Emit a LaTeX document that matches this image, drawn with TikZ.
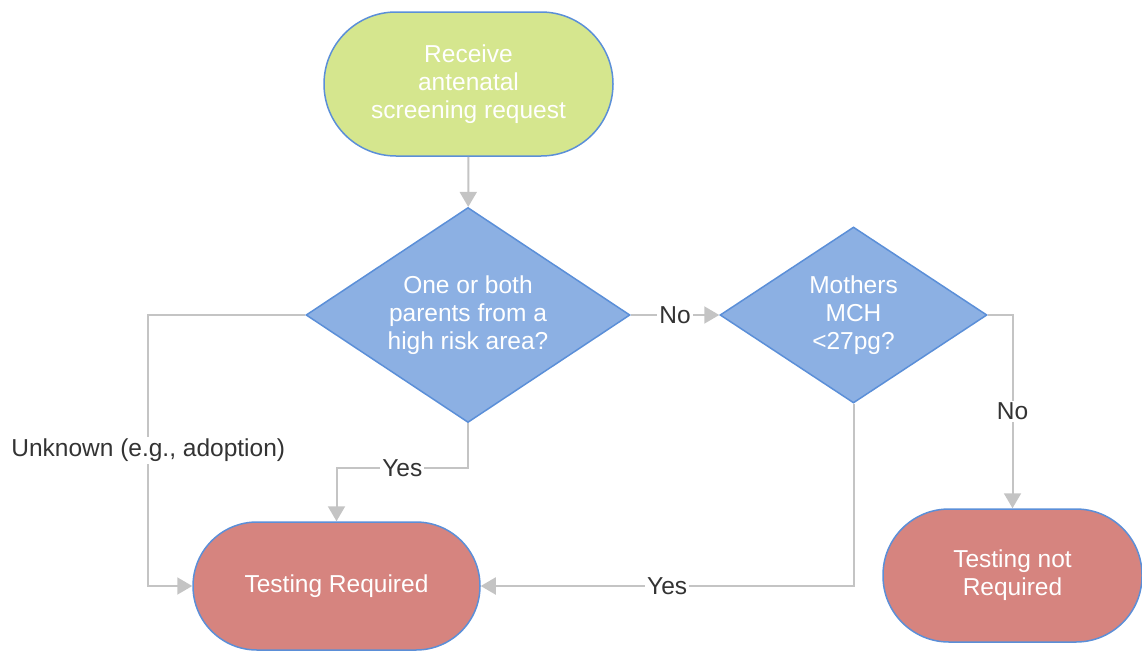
\documentclass[tikz,border=0pt]{standalone}
\usepackage{fontspec}
\setmainfont{Liberation Sans}
\usetikzlibrary{shapes.geometric,arrows.meta}
\definecolor{startgreen}{HTML}{D5E68E}
\definecolor{decblue}{HTML}{8CB0E3}
\definecolor{endred}{HTML}{D6847F}
\definecolor{edgeblue}{HTML}{5B8FD8}
\definecolor{linegray}{HTML}{C4C4C4}
\definecolor{labelgray}{HTML}{333333}
\tikzset{
  base/.style={draw=edgeblue, line width=1.5pt, text=white, align=center,
    font=\fontsize{24.5}{28}\selectfont, inner sep=0pt},
  decision/.style={base, diamond, fill=decblue},
  conn/.style={draw=linegray, line width=2pt, -{Triangle[length=15pt,width=17pt]}},
  lbl/.style={fill=white, text=labelgray, inner sep=2pt, font=\fontsize{24.5}{28}\selectfont}
}
\begin{document}
\begin{tikzpicture}[x=1pt,y=-1pt]
\useasboundingbox (0,0) rectangle (1142,653);
\node[base, fill=startgreen, minimum width=289pt, minimum height=144pt, rounded corners=72pt] (start) at (468.5,84) {Receive\\antenatal\\screening request};
\node[decision, aspect=1.507, minimum width=324pt, minimum height=215pt] (d1) at (468,315) {One or both\\parents from a\\high risk area?};
\node[decision, aspect=1.517, minimum width=267pt, minimum height=176pt] (d2) at (853.5,315) {Mothers\\MCH\\ <27pg?};
\node[base, fill=endred, minimum width=287pt, minimum height=128pt, rounded corners=64pt] (tr) at (336.5,586) {Testing Required};
\node[base, fill=endred, minimum width=259pt, minimum height=133pt, rounded corners=66pt] (tnr) at (1012.5,575.5) {Testing not\\Required};

\draw[conn] (start) -- (d1);
\draw[conn] (d1.east) -- node[lbl] {No} (d2.west);
\draw[conn] (d1.south) -- ++(0,45) -| node[lbl, pos=0.25] {Yes} (tr.north);
\draw[conn] (d1.west) -- ++(-157,0) |- node[lbl, pos=0.25] {Unknown (e.g., adoption)} (tr.west);
\draw[conn] (d2.south) |- node[lbl, pos=0.75] {Yes} (tr.east);
\draw[conn] (d2.east) -| node[lbl, pos=0.75] {No} (tnr.north);
\end{tikzpicture}
\end{document}
